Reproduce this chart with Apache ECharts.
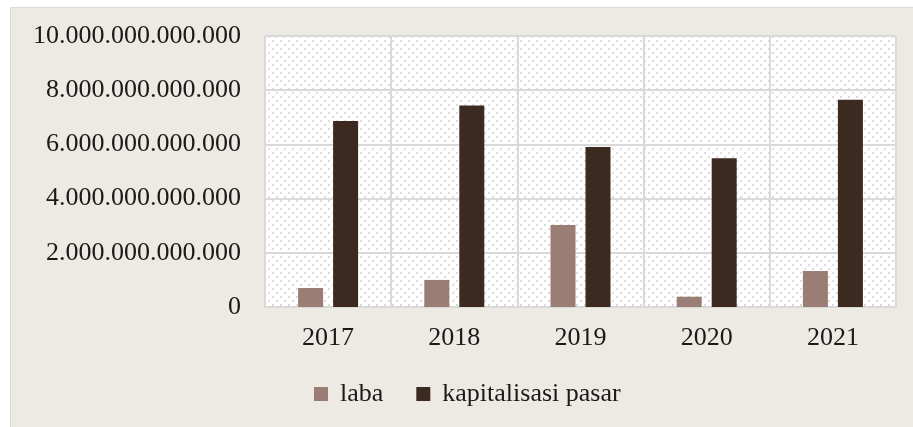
<!DOCTYPE html>
<html>
<head>
<meta charset="utf-8">
<script src="https://cdn.jsdelivr.net/npm/echarts@6/dist/echarts.min.js"></script>
<style>
html,body{margin:0;padding:0;background:#fff;}
#c{width:913px;height:427px;}
</style>
</head>
<body>
<div id="c"></div>
<script>
var categories = ['2017', '2018', '2019', '2020', '2021'];
var laba = [0.70e12, 1.00e12, 3.03e12, 0.38e12, 1.33e12];
var kapitalisasi = [6.86e12, 7.44e12, 5.90e12, 5.49e12, 7.65e12];
var seriesNames = ['laba', 'kapitalisasi pasar'];

function fmt(v) {
  var s = Math.round(v).toString();
  return s.replace(/\B(?=(\d{3})+(?!\d))/g, '.');
}

// pattern tile for plot area
var tile = document.createElement('canvas');
tile.width = 8; tile.height = 8;
var tc = tile.getContext('2d');
tc.fillStyle = '#ffffff';
tc.fillRect(0, 0, 8, 8);
tc.fillStyle = '#dcdcdc';
tc.fillRect(0, 0, 2, 2);
tc.fillRect(4, 4, 2, 2);
tc.fillStyle = '#ebebeb';
tc.fillRect(2, 6, 1, 1);
tc.fillRect(6, 2, 1, 1);

var chart = echarts.init(document.getElementById('c'), null, {renderer: 'canvas'});
var font = 'Liberation Serif';
chart.setOption({
  backgroundColor: '#ffffff',
  animation: false,
  graphic: [{
    type: 'rect',
    z: -10,
    shape: {x: 10.5, y: 7.5, width: 910, height: 430},
    style: {fill: '#ede9e3', stroke: '#d9d9d9', lineWidth: 1}
  }],
  grid: {
    left: 265, top: 36, right: 17, bottom: 120,
    show: true,
    backgroundColor: {image: tile, repeat: 'repeat'},
    borderWidth: 0
  },
  legend: {
    data: seriesNames,
    left: 309, top: 376,
    itemWidth: 14, itemHeight: 14, itemGap: 33,
    icon: 'rect',
    formatter: function (n) { return '{a|' + n + '}'; },
    textStyle: {
      fontFamily: font, fontSize: 26, color: '#1a1a1a',
      rich: {a: {fontFamily: font, fontSize: 26, color: '#1a1a1a', padding: [0, 0, 0, 7]}}
    }
  },
  xAxis: {
    type: 'category',
    data: categories,
    axisLine: {show: true, lineStyle: {color: '#d9d9d9', width: 2}},
    axisTick: {show: false},
    splitLine: {show: true, lineStyle: {color: '#d9d9d9', width: 2}},
    axisLabel: {fontFamily: font, fontSize: 26, color: '#1a1a1a', margin: 18}
  },
  yAxis: {
    type: 'value',
    min: 0, max: 10e12, interval: 2e12,
    axisLine: {show: false},
    axisTick: {show: false},
    splitLine: {show: true, lineStyle: {color: '#d9d9d9', width: 2}},
    axisLabel: {fontFamily: font, fontSize: 26, color: '#1a1a1a', margin: 24, formatter: fmt}
  },
  series: [{
    name: seriesNames[0], type: 'bar', data: laba,
    barWidth: 25, barGap: '40%',
    itemStyle: {color: '#9a7d75'}
  }, {
    name: seriesNames[1], type: 'bar', data: kapitalisasi,
    barWidth: 25,
    itemStyle: {color: '#3c2a20'}
  }]
});
</script>
</body>
</html>
